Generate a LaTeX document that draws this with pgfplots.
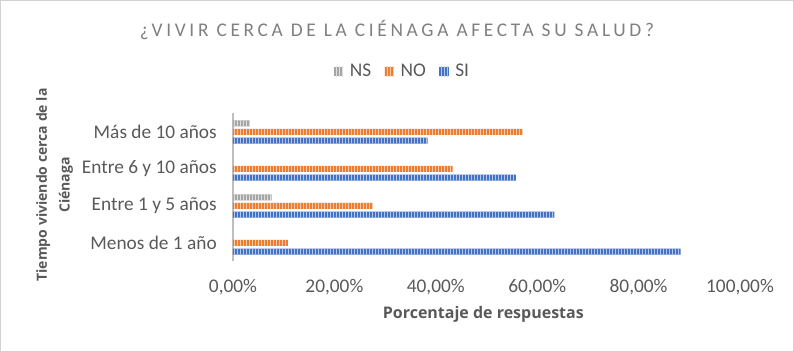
\documentclass[border=0pt]{standalone}
\usepackage{fontspec}
\setmainfont{Carlito}
\newfontfamily\lblfont{Open Sans}
\usepackage{pgfplots}
\pgfplotsset{compat=1.18}
\usetikzlibrary{patterns.meta}
\definecolor{cSI}{HTML}{4472C4}
\definecolor{cNO}{HTML}{ED7D31}
\definecolor{cNS}{HTML}{A5A5A5}
\definecolor{txt}{HTML}{595959}
\definecolor{ttl}{HTML}{7F7F7F}
\definecolor{axl}{HTML}{BFBFBF}
\begin{document}
\begin{tikzpicture}
\useasboundingbox (0,0) rectangle (595.5pt,264pt);
\draw[color=axl!70, line width=0.75pt] (0.4pt,0.4pt) rectangle (595.1pt,263.6pt);
\node[color=ttl, font=\fontsize{14.5}{16}\selectfont\addfontfeatures{LetterSpace=19}] at (297.75pt,241.5pt) {¿VIVIR CERCA DE LA CIÉNAGA AFECTA SU SALUD?};
\begin{axis}[
  at={(174.75pt,81.75pt)}, anchor=origin,
  scale only axis, width=380.25pt, height=111pt,
  xmin=0, xmax=100, ymin=-0.5, ymax=3.5,
  xbar, bar width=4.5pt,
  axis x line*=bottom,
  x axis line style={draw=none},
  axis y line*=left,
  y axis line style={color=axl, line width=1.5pt, -},
  xtick={0,20,40,60,80,100},
  xticklabels={{0,00\%},{20,00\%},{40,00\%},{60,00\%},{80,00\%},{100,00\%}},
  ytick={0,1,2,3},
  yticklabels={Menos de 1 año,Entre 1 y 5 años,Entre 6 y 10 años,Más de 10 años},
  tick style={draw=none},
  major tick length=0pt,
  ticklabel style={font=\fontsize{14.5}{16}\selectfont, color=txt},
  yticklabel style={inner sep=0pt, xshift=-12pt},
  xticklabel style={inner sep=0pt, yshift=-13pt},
  clip=false,
  legend style={at={(axis description cs:0.335,1.284)}, anchor=center, draw=none, fill=none,
    legend columns=-1, font=\fontsize{14.5}{16}\selectfont, text=txt,
    /tikz/every odd column/.append style={column sep=3pt},
    /tikz/every even column/.append style={column sep=8pt}},
  legend image code/.code={\fill[#1] (0pt,-3.5pt) rectangle (7pt,3.5pt);},
]
\addplot[draw=none, fill=cNS, bar shift=6.5pt,
  postaction={pattern={Lines[angle=90,distance=2.25pt,line width=0.75pt]}, pattern color=white!65!cNS}]
  coordinates {(3.3,3) (7.6,1)};
\addlegendentry{NS}
\addplot[draw=none, fill=cNO, bar shift=0pt,
  postaction={pattern={Lines[angle=90,distance=2.25pt,line width=0.75pt]}, pattern color=white!60!cNO}]
  coordinates {(57.1,3) (43.3,2) (27.6,1) (10.8,0)};
\addlegendentry{NO}
\addplot[draw=none, fill=cSI, bar shift=-6.5pt,
  postaction={pattern={Lines[angle=90,distance=2.25pt,line width=0.75pt]}, pattern color=white!60!cSI}]
  coordinates {(38.4,3) (55.8,2) (63.4,1) (88.3,0)};
\addlegendentry{SI}
\end{axis}
\node[font=\lblfont\bfseries\fontsize{12}{14}\selectfont, color=txt] at (362.5pt,28.5pt) {Porcentaje de respuestas};
\node[font=\lblfont\bfseries\fontsize{10.5}{17}\selectfont, color=txt, rotate=90, align=center] at (41pt,125.25pt) {Tiempo viviendo cerca de la\\Ciénaga};
\end{tikzpicture}
\end{document}
